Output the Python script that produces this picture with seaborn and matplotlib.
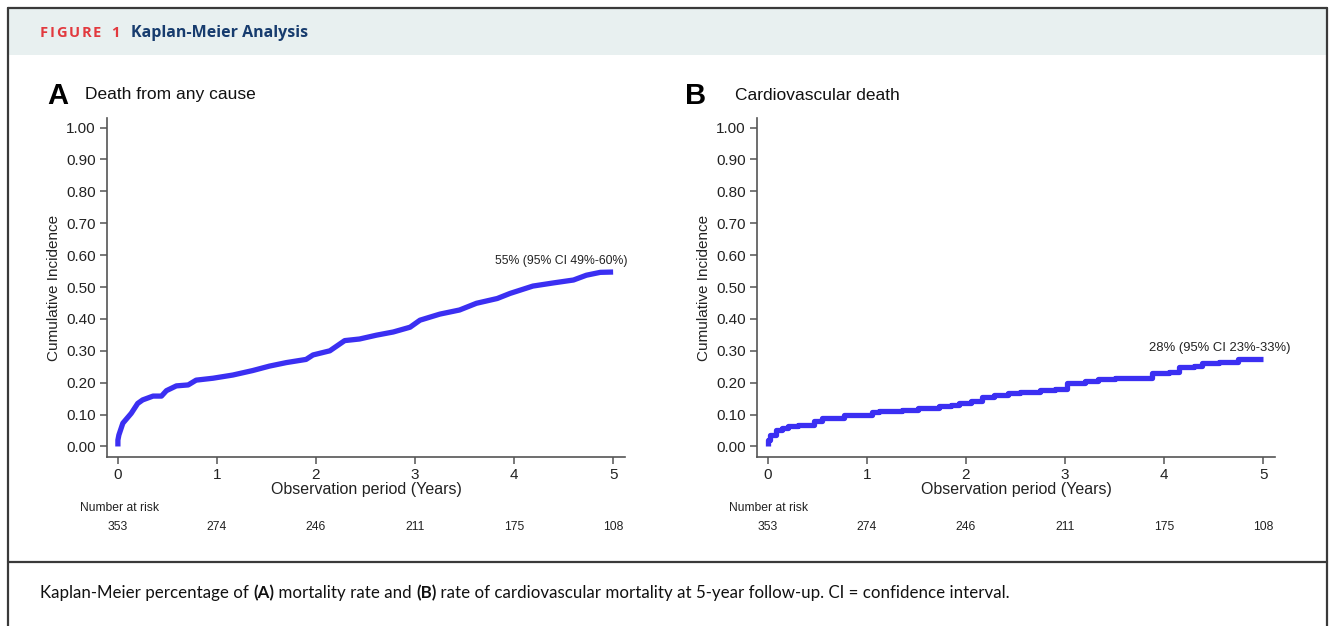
import numpy as np
import matplotlib
matplotlib.use('Agg')
import matplotlib.pyplot as plt
from matplotlib.lines import Line2D
from matplotlib.patches import Rectangle
import matplotlib.transforms as mtrans
import pandas as pd
import seaborn as sns

sns.set_style('ticks')
plt.rcParams['font.family'] = ['Liberation Sans', 'DejaVu Sans']

# panel A: death from any cause
t_all = [0, 0, 0.01, 0.05, 0.135, 0.20, 0.25, 0.355, 0.44, 0.49, 0.59, 0.71,
         0.79, 0.96, 1.16, 1.36, 1.53, 1.70, 1.90, 1.97, 2.14, 2.29, 2.44,
         2.61, 2.78, 2.95, 3.05, 3.25, 3.45, 3.62, 3.83, 3.96, 4.19, 4.40,
         4.60, 4.73, 4.87, 5.0]
ci_all = [0, 0.02, 0.036, 0.073, 0.104, 0.135, 0.146, 0.158, 0.158, 0.175,
          0.19, 0.193, 0.208, 0.214, 0.224, 0.238, 0.252, 0.263, 0.273, 0.287,
          0.30, 0.332, 0.337, 0.349, 0.359, 0.374, 0.396, 0.415, 0.428, 0.449,
          0.464, 0.48, 0.503, 0.513, 0.522, 0.537, 0.546, 0.547]

# panel B: cardiovascular death (step times, value after step)
t_cv = [0, 0.005, 0.02, 0.08, 0.14, 0.2, 0.3, 0.47, 0.55, 0.65, 0.77, 1.05,
        1.12, 1.35, 1.52, 1.73, 1.85, 1.93, 2.05, 2.16, 2.28, 2.42, 2.55,
        2.75, 2.9, 3.02, 3.2, 3.33, 3.5, 3.88, 4.05, 4.15, 4.3, 4.38, 4.55,
        4.75, 5.0]
ci_cv = [0, 0.021, 0.037, 0.051, 0.058, 0.064, 0.067, 0.079, 0.088, 0.090,
         0.098, 0.108, 0.112, 0.114, 0.121, 0.127, 0.130, 0.137, 0.143, 0.155,
         0.160, 0.168, 0.172, 0.177, 0.180, 0.198, 0.206, 0.211, 0.216, 0.229,
         0.232, 0.248, 0.253, 0.262, 0.266, 0.274, 0.274]

years = [0, 1, 2, 3, 4, 5]
at_risk = [353, 274, 246, 211, 175, 108]
yticks = [0, 0.1, 0.2, 0.3, 0.4, 0.5, 0.6, 0.7, 0.8, 0.9, 1.0]

W, H = 1335, 626
fig = plt.figure(figsize=(W / 100, H / 100), dpi=100)
fig.patch.set_facecolor('white')
renderer = fig.canvas.get_renderer()

def fx(px):
    return px / W

def fy(py):
    return 1 - py / H

# frame and header band
fig.add_artist(Rectangle((fx(8), fy(55)), fx(1327) - fx(8), fy(8) - fy(55),
                         transform=fig.transFigure, facecolor='#e8f0f0',
                         edgecolor='none', zorder=0))
for xs, ys in [([8, 8], [8, 640]), ([1327, 1327], [8, 640]),
               ([8, 1327], [8, 8]), ([8, 1327], [562, 562])]:
    fig.add_artist(Line2D([fx(v) for v in xs], [fy(v) for v in ys],
                          transform=fig.transFigure, color='#3a3a3a', lw=1.6))

# letter-spaced "FIGURE 1"
hdr_font = ['Open Sans', 'DejaVu Sans']
x = fx(40)
for ch in 'FIGURE 1':
    t = fig.text(x, fy(33), ch, color='#e2393e', fontsize=10.5,
                 fontweight='bold', va='center', family=hdr_font)
    x += t.get_window_extent(renderer=renderer).width / W + fx(1.6)
    if ch == ' ':
        x += fx(3)
fig.text(fx(131), fy(33), 'Kaplan-Meier Analysis', color='#173c6e',
         fontsize=11.5, fontweight='bold', va='center', family=hdr_font)

line_col = '#3b2ff2'
axis_col = '#555555'

panels = [
    dict(left=107, letter='A', lx=47, title='Death from any cause', tx=85,
         t=t_all, y=ci_all, steps=False, note='55% (95% CI 49%-60%)',
         nx=4.48, ny=0.581, nfs=8.8, risk_x=80),
    dict(left=757, letter='B', lx=685, title='Cardiovascular death', tx=735,
         t=t_cv, y=ci_cv, steps=True, note='28% (95% CI 23%-33%)',
         nx=4.56, ny=0.309, nfs=9.4, risk_x=729),
]

for p in panels:
    ax = fig.add_axes([fx(p['left']), fy(457), fx(518), fy(118) - fy(457)])
    df = pd.DataFrame({'t': p['t'], 'ci': p['y']})
    kw = dict(drawstyle='steps-post') if p['steps'] else {}
    sns.lineplot(data=df, x='t', y='ci', ax=ax, estimator=None, sort=False,
                 color=line_col, lw=3.8, solid_capstyle='butt', **kw)
    ax.set_xlim(-0.11, 5.12)
    ax.set_ylim(-0.033, 1.03)
    ax.set_xticks(years)
    ax.set_yticks(yticks)
    ax.set_yticklabels([f'{v:.2f}' for v in yticks])
    sns.despine(ax=ax)
    for s in ['left', 'bottom']:
        ax.spines[s].set_color(axis_col)
        ax.spines[s].set_linewidth(1.2)
    ax.tick_params(axis='both', colors=axis_col, labelcolor='#222222',
                   labelsize=11, length=5, width=1.1, pad=3)
    ax.set_xlabel('Observation period (Years)', fontsize=11.5,
                  color='#222222', labelpad=0)
    ax.set_ylabel('Cumulative Incidence', fontsize=11, color='#222222',
                  labelpad=4)
    ax.text(p['nx'], p['ny'], p['note'], ha='center', va='center',
            fontsize=p['nfs'], color='#222222')

    fig.text(fx(p['lx']), fy(96), p['letter'], fontsize=21, fontweight='bold',
             va='center', ha='left', color='black')
    fig.text(fx(p['tx']), fy(95), p['title'], fontsize=12.5, va='center',
             ha='left', color='#111111')

    fig.text(fx(p['risk_x']), fy(508), 'Number at risk', fontsize=8.7,
             va='center', ha='left', color='#222222')
    tr = mtrans.blended_transform_factory(ax.transData, fig.transFigure)
    for yr, n in zip(years, at_risk):
        fig.text(yr, fy(527), str(n), transform=tr, fontsize=8.7, ha='center',
                 va='center', color='#222222')

# caption with bold panel references
pieces = [('Kaplan-Meier percentage of ', 'normal'), ('(A)', 'bold'),
          (' mortality rate and ', 'normal'), ('(B)', 'bold'),
          (' rate of cardiovascular mortality at 5-year follow-up. CI = '
           'confidence interval.', 'normal')]
x = fx(40)
for txt, wt in pieces:
    t = fig.text(x, fy(593), txt, fontsize=12.2, fontweight=wt,
                 va='center', ha='left', color='#111111',
                 family=['Lato', 'DejaVu Sans'])
    x += t.get_window_extent(renderer=renderer).width / W

fig.savefig('out.png', dpi=100, facecolor='white')
